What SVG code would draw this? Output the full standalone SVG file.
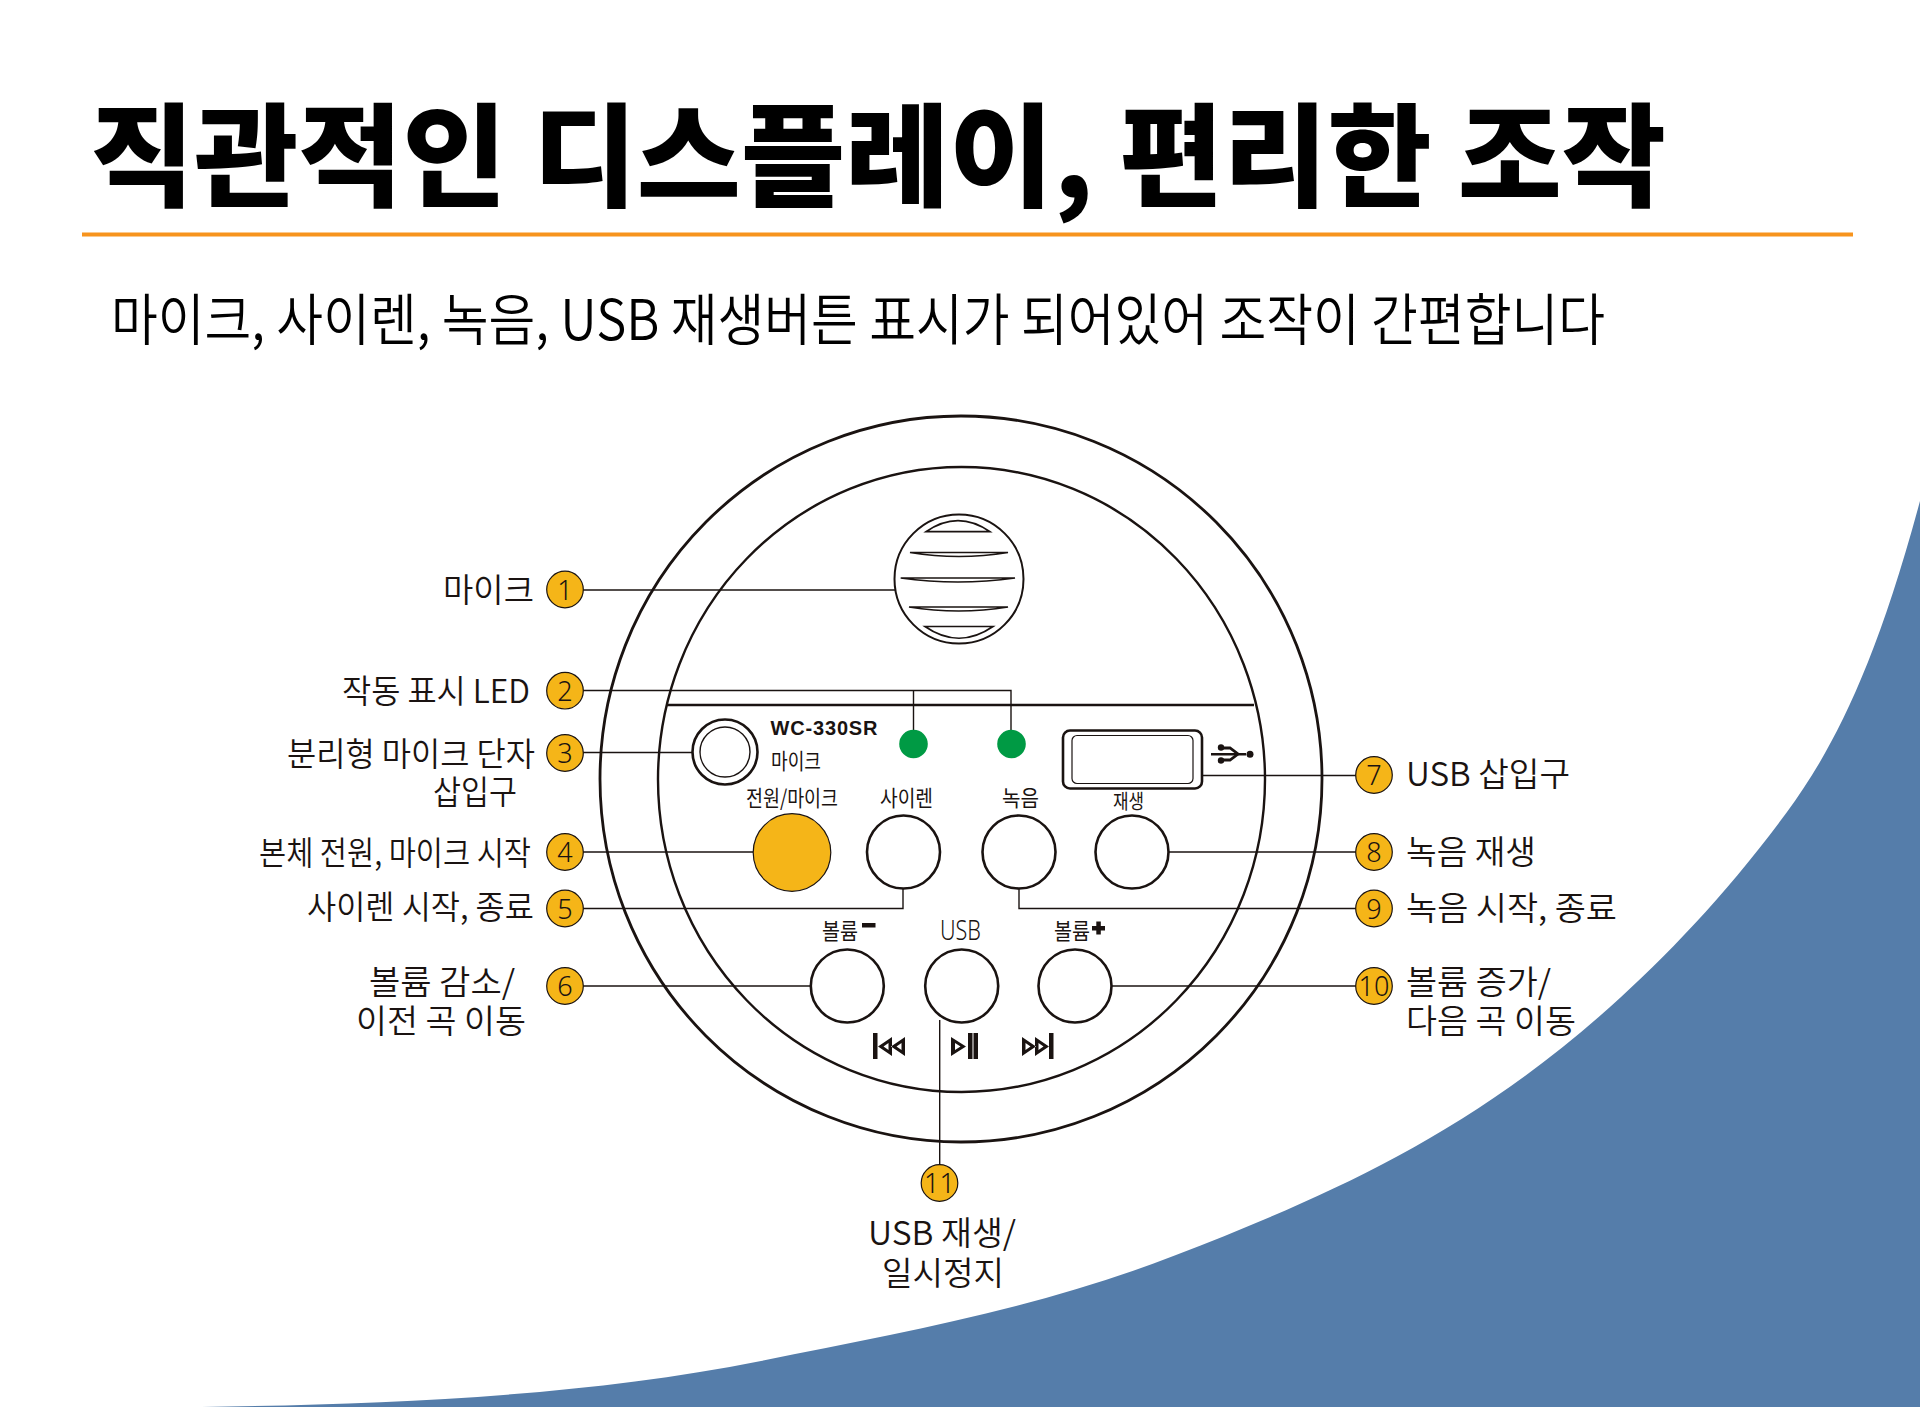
<svg xmlns="http://www.w3.org/2000/svg" width="1920" height="1407" viewBox="0 0 1920 1407">
<style>
text{font-family:"Noto Sans CJK KR","Noto Sans",sans-serif;fill:#1a1311}
.t{font-size:33px;font-weight:350}
.p{font-size:22px;font-weight:400}
.n{font-family:"Noto Sans","Noto Sans CJK KR",sans-serif;font-size:27px;font-weight:300;text-anchor:middle}
.b{fill:#fff;stroke:#1a1311;stroke-width:2.6}
.c{fill:#f5b518;stroke:#1a1311;stroke-width:1.2}
.w{fill:none;stroke:#1a1311;stroke-width:1.4}
.o{fill:none;stroke:#1a1311;stroke-width:2.6}
.s{fill:#fff;stroke:#1a1311;stroke-width:1.7}
.k{fill:#1a1311}
.g{fill:#009a44}
</style>
<rect width="1920" height="1407" fill="#fff"/>
<path id="bg" d="M202 1407C380 1404 575 1398 761 1361C899 1333 1038 1309 1176 1255C1321 1198.500 1465 1137 1610 1007C1669 954 1728 892 1787 812C1831 752 1874 672 1920 501V1407Z" fill="#557daa"/>
<text x="90" y="197.500" font-size="112" font-weight="900" textLength="1576" lengthAdjust="spacingAndGlyphs" style="fill:#000">직관적인 디스플레이, 편리한 조작</text>
<rect x="82" y="232.500" width="1771" height="4" fill="#f7941d"/>
<text x="111" y="340" font-size="56" font-weight="350" textLength="1494" lengthAdjust="spacingAndGlyphs" style="fill:#000">마이크, 사이렌, 녹음, USB 재생버튼 표시가 되어있어 조작이 간편합니다</text>
<g id="body">
<ellipse cx="961" cy="779" rx="361" ry="363" fill="#fff" stroke="#1a1311" stroke-width="2.800"/>
<ellipse cx="961.500" cy="779.500" rx="303.500" ry="312.500" fill="#fff" stroke="#1a1311" stroke-width="2.400"/>
<path d="M666.500 705H1254" class="o"/>
</g>
<g id="connectors">
<path class="w" d="M583 590H895"/>
<path class="w" d="M583 690.500H1011V730M913.500 690.500V730"/>
<path class="w" d="M583 752.500H692"/>
<path class="w" d="M583 852H753"/>
<path class="w" d="M583 908.500H903V888"/>
<path class="w" d="M583 986H811"/>
<path class="w" d="M1202 775.500H1356"/>
<path class="w" d="M1168 852H1356"/>
<path class="w" d="M1019 888V908.500H1356"/>
<path class="w" d="M1112 986H1356"/>
<path class="w" d="M939.700 1020V1165"/>
</g>
<g id="mic">
<circle cx="959" cy="579" r="64.500" fill="#fff" stroke="#1a1311" stroke-width="2"/>
<path class="s" d="M926 531.700H990Q958 509.500 926 531.700Z"/>
<path class="s" d="M910 552.500H1008Q959 560.500 910 552.500Z"/>
<path class="s" d="M900.700 578H1015Q958 586 900.700 578Z"/>
<path class="s" d="M909 607H1008Q959 615 909 607Z"/>
<path class="s" d="M925 626.500H993Q959 650 925 626.500Z"/>
</g>
<g id="jack">
<circle cx="725" cy="752" r="32.500" class="b"/>
<circle cx="725" cy="752" r="25" fill="#fff" stroke="#1a1311" stroke-width="1.400"/>
</g>
<g id="led1"><circle cx="913.500" cy="744" r="14.300" class="g"/></g>
<g id="led2"><circle cx="1011.500" cy="744" r="14.300" class="g"/></g>
<g id="usb-port">
<rect x="1063" y="730.500" width="139" height="58" rx="7" class="b"/>
<rect x="1072" y="735.500" width="121" height="48" rx="5" fill="#fff" stroke="#1a1311" stroke-width="1.200"/>
<path class="k" d="M1211 753h35v2.500h-35z"/>
<path class="o" d="M1222 748h8l8 6-8 6h-8" style="stroke-width:2.800"/>
<circle cx="1250" cy="754.200" r="3.500" class="k"/>
<circle cx="1221" cy="747.500" r="3.200" class="k"/>
<circle cx="1221" cy="760.500" r="3.200" class="k"/>
</g>
<g id="panel-labels">
<text x="770.500" y="735" style="font-family:'Liberation Sans',sans-serif" font-size="20" font-weight="700" textLength="107" lengthAdjust="spacing">WC-330SR</text>
<text class="p" x="771" y="769" textLength="50" lengthAdjust="spacingAndGlyphs">마이크</text>
<text class="p" x="746" y="805.500" textLength="92" lengthAdjust="spacingAndGlyphs">전원/마이크</text>
<text class="p" x="880" y="805.500" textLength="53" lengthAdjust="spacingAndGlyphs">사이렌</text>
<text class="p" x="1002" y="805.500" textLength="37" lengthAdjust="spacingAndGlyphs">녹음</text>
<text class="p" x="1113" y="809" style="font-size:20px" textLength="31" lengthAdjust="spacingAndGlyphs">재생</text>
<text class="p" x="822" y="939" textLength="36" lengthAdjust="spacingAndGlyphs">볼륨</text>
<text class="p" x="940" y="940" textLength="41" lengthAdjust="spacingAndGlyphs" style="font-family:'Noto Sans',sans-serif;font-size:27px;font-weight:300">USB</text>
<text class="p" x="1054" y="939" textLength="36" lengthAdjust="spacingAndGlyphs">볼륨</text>
</g>
<g id="panel-symbols" class="k">
<rect x="862" y="923" width="13.500" height="4.500"/>
<rect x="1092" y="926" width="13" height="4.500"/>
<rect x="1096.300" y="921.500" width="4.500" height="13"/>
<path fill-rule="evenodd" d="M873 1033h4.500v26h-4.500zM892 1037v19l-14-9.500zM888.500 1043l-5 3.500 5 3.500zM905 1037v19l-14-9.500zM901.500 1043l-5 3.500 5 3.500z"/>
<path fill-rule="evenodd" d="M951 1037l15 9.500-15 9.500zM955 1043v7l5.500-3.500zM968 1033h4.500v26h-4.500zM973.500 1033h4.500v26h-4.500z"/>
<path fill-rule="evenodd" d="M1049 1033h4.500v26h-4.500zM1035 1037v19l14-9.500zM1038.500 1043l5 3.500-5 3.500zM1022 1037v19l14-9.500zM1025.500 1043l5 3.500-5 3.500z"/>
</g>
<g id="btn-power"><circle cx="792" cy="852.500" r="38.800" fill="#f5b518" stroke="#1a1311" stroke-width="1.200"/></g>
<g id="btn-siren"><circle cx="903.500" cy="852" r="36.500" class="b"/></g>
<g id="btn-rec"><circle cx="1019" cy="852" r="36.500" class="b"/></g>
<g id="btn-play"><circle cx="1132" cy="852" r="36.500" class="b"/></g>
<g id="btn-voldown"><circle cx="847.300" cy="986" r="36.500" class="b"/></g>
<g id="btn-usb"><circle cx="961.700" cy="986" r="36.500" class="b"/></g>
<g id="btn-volup"><circle cx="1075" cy="986" r="36.500" class="b"/></g>
<g id="c1"><circle class="c" cx="565" cy="589.500" r="18.300"/><text class="n" x="565" y="599.500">1</text><text class="t" x="443" y="602" textLength="91" lengthAdjust="spacingAndGlyphs">마이크</text></g>
<g id="c2"><circle class="c" cx="565" cy="690.700" r="18.300"/><text class="n" x="565" y="700.500">2</text><text class="t" x="342" y="703" textLength="188" lengthAdjust="spacingAndGlyphs">작동 표시 LED</text></g>
<g id="c3"><circle class="c" cx="565" cy="753" r="18.300"/><text class="n" x="565" y="763">3</text><text class="t" x="287" y="766" textLength="248" lengthAdjust="spacingAndGlyphs">분리형 마이크 단자</text><text class="t" x="433" y="804" textLength="84" lengthAdjust="spacingAndGlyphs">삽입구</text></g>
<g id="c4"><circle class="c" cx="565" cy="852" r="18.300"/><text class="n" x="565" y="862">4</text><text class="t" x="259" y="865" textLength="272" lengthAdjust="spacingAndGlyphs">본체 전원, 마이크 시작</text></g>
<g id="c5"><circle class="c" cx="565" cy="908.500" r="18.300"/><text class="n" x="565" y="918.500">5</text><text class="t" x="307" y="919" textLength="227" lengthAdjust="spacingAndGlyphs">사이렌 시작, 종료</text></g>
<g id="c6"><circle class="c" cx="565" cy="986" r="18.300"/><text class="n" x="565" y="996">6</text><text class="t" x="369" y="994" textLength="146" lengthAdjust="spacingAndGlyphs">볼륨 감소/</text><text class="t" x="356" y="1033" textLength="170" lengthAdjust="spacingAndGlyphs">이전 곡 이동</text></g>
<g id="c7"><circle class="c" cx="1374" cy="775" r="18.300"/><text class="n" x="1374" y="785">7</text><text class="t" x="1406" y="786" textLength="164" lengthAdjust="spacingAndGlyphs">USB 삽입구</text></g>
<g id="c8"><circle class="c" cx="1374" cy="852" r="18.300"/><text class="n" x="1374" y="862">8</text><text class="t" x="1406" y="864" textLength="130" lengthAdjust="spacingAndGlyphs">녹음 재생</text></g>
<g id="c9"><circle class="c" cx="1374" cy="908.500" r="18.300"/><text class="n" x="1374" y="918.500">9</text><text class="t" x="1406" y="920" textLength="211" lengthAdjust="spacingAndGlyphs">녹음 시작, 종료</text></g>
<g id="c10"><circle class="c" cx="1374" cy="986" r="18.300"/><text class="n" x="1374" y="996">10</text><text class="t" x="1406" y="994" textLength="145" lengthAdjust="spacingAndGlyphs">볼륨 증가/</text><text class="t" x="1406" y="1033" textLength="170" lengthAdjust="spacingAndGlyphs">다음 곡 이동</text></g>
<g id="c11"><circle class="c" cx="939.500" cy="1183" r="18.300"/><text class="n" x="939.500" y="1193">11</text><text class="t" x="868" y="1245" textLength="148" lengthAdjust="spacingAndGlyphs">USB 재생/</text><text class="t" x="882" y="1285" textLength="122" lengthAdjust="spacingAndGlyphs">일시정지</text></g>
</svg>
